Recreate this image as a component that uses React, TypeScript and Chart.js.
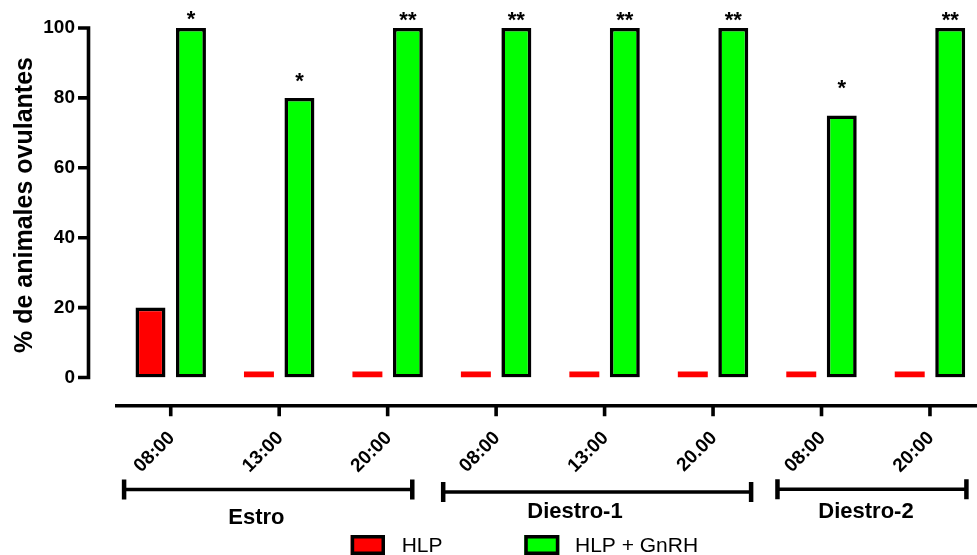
import { useEffect, useRef } from "react";
import { Chart, registerables } from "chart.js";

Chart.register(...registerables);

// ---- data ----
const timeLabels = ["08:00", "13:00", "20:00", "08:00", "13:00", "20.00", "08:00", "20:00"];
const hlpValues = [20, 0, 0, 0, 0, 0, 0, 0];
const hlpGnrhValues = [100, 80, 100, 100, 100, 100, 75, 100];
const significance = ["*", "*", "**", "**", "**", "**", "*", "**"];
const seriesNames = ["HLP", "HLP + GnRH"];
const seriesColors = ["#ff0000", "#00ff00"];
const phaseNames = ["Estro", "Diestro-1", "Diestro-2"];
const yTicks = [0, 20, 40, 60, 80, 100];
const yTitle = "% de animales ovulantes";

// ---- layout ----
const FONT = "'Liberation Sans', Arial, Helvetica, sans-serif";
const CANVAS_W = 1000;
const CANVAS_H = 555;
const PLOT_LEFT = 116.5;
const PLOT_RIGHT = 984.2;
const PLOT_TOP = 28;
const PLOT_BOTTOM = 377.5;
const Y_AXIS_X = 88.5;
const X_AXIS_Y = 405.7;
const X_LABEL_Y = 435;
const LINE_W = 3.6;
const BAR_BORDER = 3.6;
// distance (px) between a bar top and the centre of its significance mark
const starLift = [15, 23, 13.5, 13.5, 13.5, 13.5, 33.5, 13.5];
// bracket span in category units and its vertical position
const phaseSpans: [number, number, number][] = [
  [-0.43, 2.227, 489.5],
  [2.512, 5.351, 492],
  [5.594, 7.336, 489.2],
];
// label centre in category units and its baseline
const phaseLabelPos: [number, number][] = [
  [0.79, 524],
  [3.727, 518.3],
  [6.41, 518.3],
];
const legendItems: [number, number, number][] = [
  // box left, box width, text left
  [350.7, 34.3, 401.7],
  [524.3, 35, 575],
];

const decorations = {
  id: "gpDecorations",
  afterDatasetsDraw(chart: any) {
    const { ctx } = chart;
    const xs = chart.scales.x;
    const ys = chart.scales.y;
    const catPx = (pos: number) => {
      const a = xs.getPixelForTick(0);
      const b = xs.getPixelForTick(1);
      return a + (b - a) * pos;
    };

    ctx.save();
    ctx.strokeStyle = "#000";
    ctx.fillStyle = "#000";
    ctx.lineCap = "butt";

    // y axis line and tick marks
    ctx.lineWidth = LINE_W;
    ctx.beginPath();
    ctx.moveTo(Y_AXIS_X, ys.getPixelForValue(100) - LINE_W / 2);
    ctx.lineTo(Y_AXIS_X, ys.getPixelForValue(0) + LINE_W / 2);
    yTicks.forEach((v) => {
      const y = ys.getPixelForValue(v);
      ctx.moveTo(Y_AXIS_X - 10.5, y);
      ctx.lineTo(Y_AXIS_X, y);
    });
    ctx.stroke();

    // x axis line and tick marks
    ctx.beginPath();
    ctx.moveTo(115, X_AXIS_Y);
    ctx.lineTo(chart.width, X_AXIS_Y);
    timeLabels.forEach((_, i) => {
      const x = xs.getPixelForTick(i);
      ctx.moveTo(x, X_AXIS_Y);
      ctx.lineTo(x, X_AXIS_Y + 10.5);
    });
    ctx.stroke();

    // rotated time labels
    ctx.font = `bold 19px ${FONT}`;
    ctx.textAlign = "right";
    ctx.textBaseline = "middle";
    timeLabels.forEach((t, i) => {
      const x = xs.getPixelForTick(i);
      ctx.save();
      ctx.translate(x + 1, X_LABEL_Y);
      ctx.rotate(-Math.PI / 4);
      ctx.fillText(t, 0, 0);
      ctx.restore();
    });

    // phase brackets
    phaseSpans.forEach(([s, e, y]) => {
      const x1 = catPx(s);
      const x2 = catPx(e);
      ctx.lineWidth = LINE_W;
      ctx.beginPath();
      ctx.moveTo(x1, y);
      ctx.lineTo(x2, y);
      ctx.stroke();
      ctx.lineWidth = 4.5;
      ctx.beginPath();
      ctx.moveTo(x1, y - 10);
      ctx.lineTo(x1, y + 10);
      ctx.moveTo(x2, y - 10);
      ctx.lineTo(x2, y + 10);
      ctx.stroke();
    });
    ctx.font = `bold 22px ${FONT}`;
    ctx.textAlign = "center";
    ctx.textBaseline = "alphabetic";
    phaseNames.forEach((name, i) => {
      const [pos, base] = phaseLabelPos[i];
      ctx.fillText(name, catPx(pos), base);
    });

    // y axis title
    ctx.save();
    ctx.font = `bold 25px ${FONT}`;
    ctx.translate(31.5, 205);
    ctx.rotate(-Math.PI / 2);
    ctx.textAlign = "center";
    ctx.textBaseline = "alphabetic";
    ctx.fillText(yTitle, 0, 0);
    ctx.restore();

    // significance marks above the GnRH bars
    const meta = chart.getDatasetMeta(1);
    ctx.font = `bold 22px ${FONT}`;
    ctx.textAlign = "center";
    ctx.textBaseline = "alphabetic";
    meta.data.forEach((bar: any, i: number) => {
      const cy = bar.y - starLift[i];
      ctx.fillText(significance[i], bar.x, cy + 0.58 * 22);
    });

    // legend
    ctx.font = `21px ${FONT}`;
    ctx.textAlign = "left";
    ctx.textBaseline = "alphabetic";
    legendItems.forEach(([bx, bw, tx], i) => {
      ctx.fillStyle = seriesColors[i];
      ctx.fillRect(bx, 535, bw, 20);
      ctx.lineWidth = 3.5;
      ctx.strokeStyle = "#000";
      ctx.strokeRect(bx + 1.75, 536.75, bw - 3.5, 16.5);
      ctx.fillStyle = "#000";
      ctx.fillText(seriesNames[i], tx, 551.5);
    });

    ctx.restore();
  },
};

export default function App() {
  const canvasRef = useRef<HTMLCanvasElement | null>(null);

  useEffect(() => {
    const canvas = canvasRef.current;
    if (!canvas) return;
    const borderFor = (c: any) => (c.raw === 0 ? 0 : BAR_BORDER);
    const chart = new Chart(canvas, {
      type: "bar",
      data: {
        labels: timeLabels,
        datasets: [
          {
            label: seriesNames[0],
            data: hlpValues,
            backgroundColor: seriesColors[0],
            borderColor: "#000",
            borderWidth: borderFor,
            borderSkipped: false,
            minBarLength: 6,
            categoryPercentage: 0.7465,
            barPercentage: 0.74,
          },
          {
            label: seriesNames[1],
            data: hlpGnrhValues,
            backgroundColor: seriesColors[1],
            borderColor: "#000",
            borderWidth: borderFor,
            borderSkipped: false,
            minBarLength: 6,
            categoryPercentage: 0.7465,
            barPercentage: 0.74,
          },
        ],
      },
      options: {
        responsive: false,
        animation: false,
        devicePixelRatio: 1,
        layout: {
          padding: { left: 0, top: PLOT_TOP, right: CANVAS_W - PLOT_RIGHT, bottom: 0 },
        },
        plugins: {
          legend: { display: false },
          tooltip: { enabled: false },
          title: { display: false },
        },
        scales: {
          x: {
            type: "category",
            offset: true,
            grid: { display: false, drawTicks: false },
            border: { display: false },
            ticks: { display: false },
            afterFit: (s: any) => {
              s.height = CANVAS_H - PLOT_BOTTOM;
            },
          },
          y: {
            min: 0,
            max: 100,
            grid: { display: false, drawTicks: false },
            border: { display: false },
            ticks: {
              padding: 41.5,
              color: "#000",
              font: { family: FONT, size: 19, weight: "bold" },
            },
            afterBuildTicks: (s: any) => {
              s.ticks = yTicks.map((v) => ({ value: v }));
            },
            afterFit: (s: any) => {
              s.width = PLOT_LEFT;
              s.paddingTop = 0;
              s.paddingBottom = 0;
            },
          },
        },
      },
      plugins: [decorations],
    });
    return () => chart.destroy();
  }, []);

  return (
    <div
      style={{
        position: "absolute",
        left: 0,
        top: 0,
        width: 977,
        height: 555,
        overflow: "hidden",
        background: "#fff",
      }}
    >
      <canvas
        ref={canvasRef}
        width={CANVAS_W}
        height={CANVAS_H}
        style={{ display: "block", width: CANVAS_W, height: CANVAS_H }}
      />
    </div>
  );
}
